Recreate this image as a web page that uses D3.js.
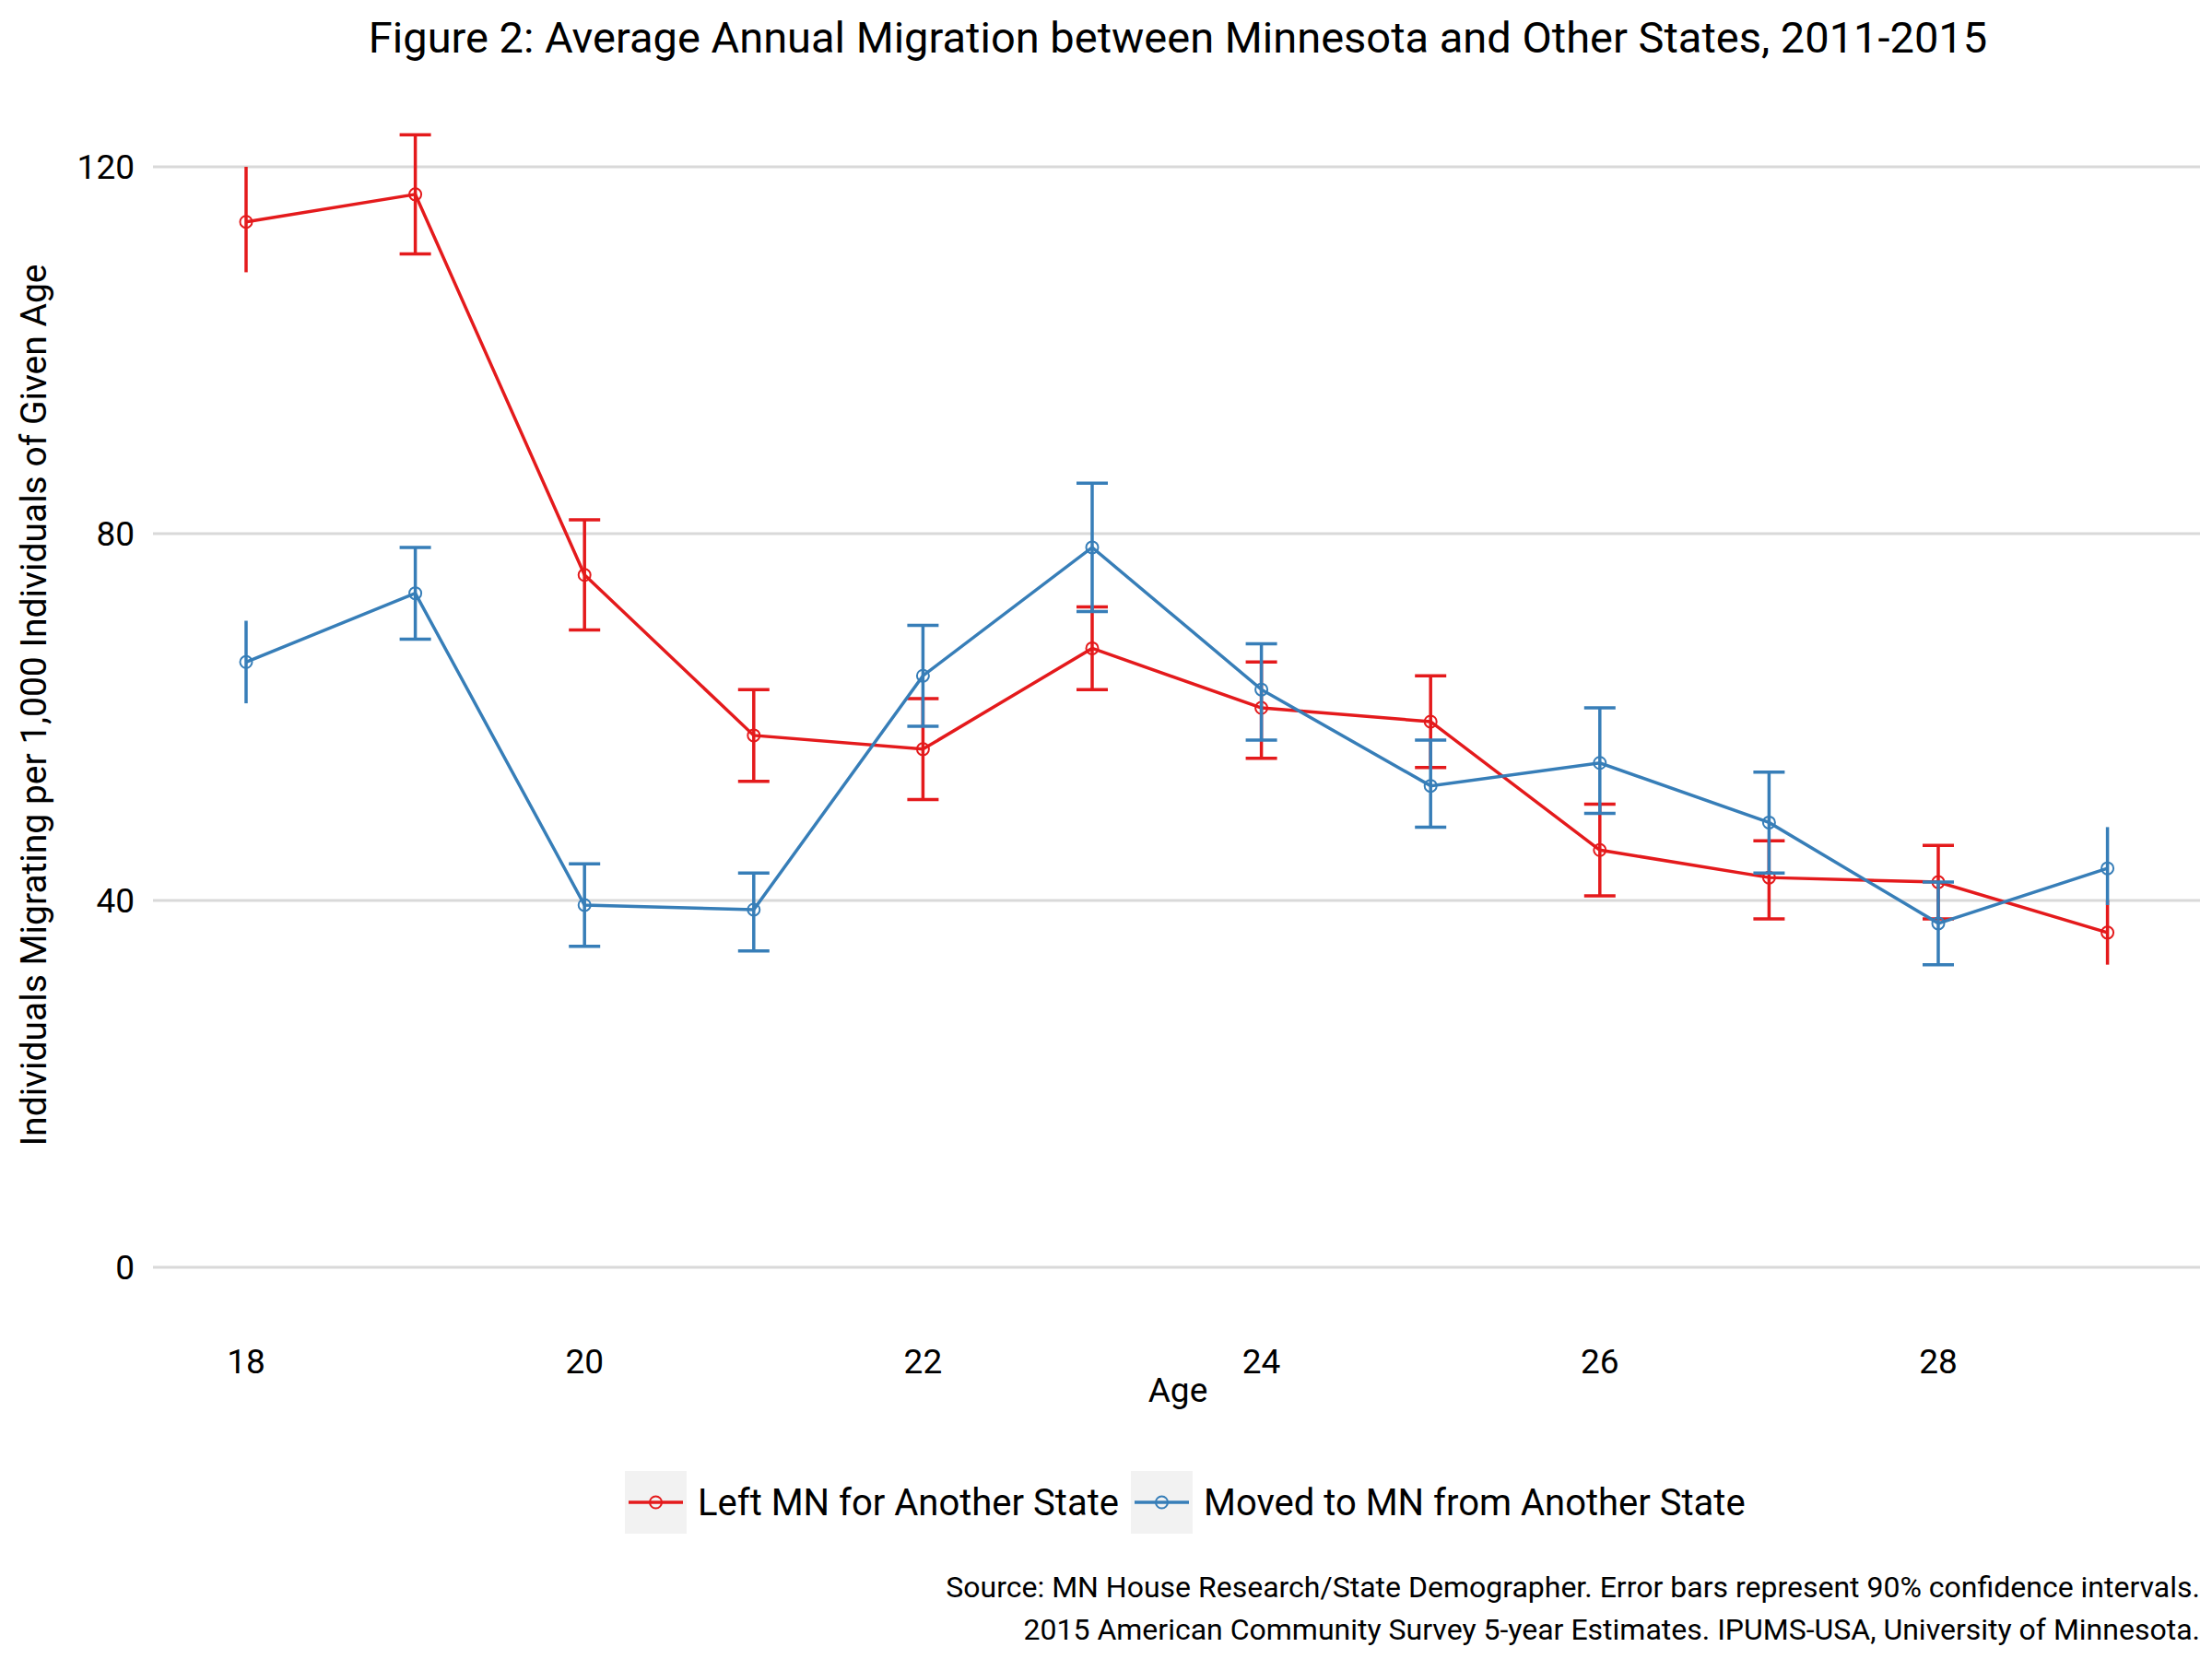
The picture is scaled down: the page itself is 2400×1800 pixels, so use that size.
<!DOCTYPE html><html><head><meta charset="utf-8">
<script src="https://cdn.jsdelivr.net/npm/d3@7"></script>
<style>body{margin:0;background:#fff}text{font-family:Roboto,sans-serif}</style></head><body>
<svg id="c" width="2400" height="1800"></svg>
<script>
const ages=[18,19,20,21,22,23,24,25,26,27,28,29];
const leftVal=[114,117,75.5,58,56.5,67.5,61,59.5,45.5,42.5,42,36.5];
const leftLo=[108.5,110.5,69.5,53,51,63,55.5,54.5,40.5,38,38,33];
const leftHi=[120,123.5,81.5,63,62,72,66,64.5,50.5,46.5,46,40];
const movedVal=[66,73.5,39.5,39,64.5,78.5,63,52.5,55,48.5,37.5,43.5];
const movedLo=[61.5,68.5,35,34.5,59,71.5,57.5,48,49.5,43,33,39.5];
const movedHi=[70.5,78.5,44,43,70,85.5,68,57.5,61,54,42,48];
const yTicks=[0,40,80,120];
const xTicks=[18,20,22,24,26,28];
const series=[{name:"Left MN for Another State",color:"#e41a1c",v:leftVal,lo:leftLo,hi:leftHi},
{name:"Moved to MN from Another State",color:"#377eb8",v:movedVal,lo:movedLo,hi:movedHi}];
const svg=d3.select("#c");
const x=d3.scaleLinear().domain([18,28]).range([267,2103]);
const y=d3.scaleLinear().domain([0,120]).range([1375,181]);
const L=166,R=2387;
svg.append("g").selectAll("line").data(yTicks).join("line").attr("x1",L).attr("x2",R)
 .attr("y1",d=>y(d)).attr("y2",d=>y(d)).attr("stroke","#d9d9d9").attr("stroke-width",3);
svg.append("g").selectAll("text").data(yTicks).join("text").attr("x",146).attr("y",d=>y(d)+13)
 .attr("text-anchor","end").attr("font-size",37).text(d=>d);
svg.append("g").selectAll("text").data(xTicks).join("text").attr("x",d=>x(d)).attr("y",1490)
 .attr("text-anchor","middle").attr("font-size",37).text(d=>d);
svg.append("text").attr("x",1278).attr("y",1521).attr("text-anchor","middle").attr("font-size",37).text("Age");
svg.append("text").attr("transform","translate(50,765) rotate(-90)").attr("text-anchor","middle").attr("font-size",39)
 .text("Individuals Migrating per 1,000 Individuals of Given Age");
svg.append("text").attr("x",1278).attr("y",57).attr("text-anchor","middle").attr("font-size",47)
 .text("Figure 2: Average Annual Migration between Minnesota and Other States, 2011-2015");
const cap=17;
series.forEach(s=>{
 const g=svg.append("g");
 const pts=ages.map((a,i)=>({a,v:s.v[i],lo:s.lo[i],hi:s.hi[i]}));
 g.selectAll(".eb").data(pts).join("line").attr("x1",d=>x(d.a)).attr("x2",d=>x(d.a))
  .attr("y1",d=>y(d.lo)).attr("y2",d=>y(d.hi)).attr("stroke",s.color).attr("stroke-width",3.5);
 const inner=pts.filter(d=>d.a!==18&&d.a!==29);
 ["lo","hi"].forEach(k=>g.selectAll(".c"+k).data(inner).join("line").attr("x1",d=>x(d.a)-cap).attr("x2",d=>x(d.a)+cap)
  .attr("y1",d=>y(d[k])).attr("y2",d=>y(d[k])).attr("stroke",s.color).attr("stroke-width",3.5));
 g.append("path").datum(pts).attr("d",d3.line().x(d=>x(d.a)).y(d=>y(d.v))).attr("fill","none")
  .attr("stroke",s.color).attr("stroke-width",3.5);
 g.selectAll("circle").data(pts).join("circle").attr("cx",d=>x(d.a)).attr("cy",d=>y(d.v)).attr("r",6.5)
  .attr("fill","none").attr("stroke",s.color).attr("stroke-width",2);
});
const lg=svg.append("g");
const keyX=[678,1227],txtX=[757,1306];
series.forEach((s,i)=>{
 lg.append("rect").attr("x",keyX[i]).attr("y",1596).attr("width",67).attr("height",68).attr("fill","#f2f2f2");
 lg.append("line").attr("x1",keyX[i]+4).attr("x2",keyX[i]+63).attr("y1",1630).attr("y2",1630).attr("stroke",s.color).attr("stroke-width",3.5);
 lg.append("circle").attr("cx",keyX[i]+33.5).attr("cy",1630).attr("r",6.5).attr("fill","none").attr("stroke",s.color).attr("stroke-width",2);
 lg.append("text").attr("x",txtX[i]).attr("y",1644).attr("font-size",40).text(s.name);
});
svg.append("text").attr("x",2387).attr("y",1733).attr("text-anchor","end").attr("font-size",32)
 .text("Source: MN House Research/State Demographer. Error bars represent 90% confidence intervals.");
svg.append("text").attr("x",2387).attr("y",1779).attr("text-anchor","end").attr("font-size",32)
 .text("2015 American Community Survey 5-year Estimates. IPUMS-USA, University of Minnesota.");
</script></body></html>
